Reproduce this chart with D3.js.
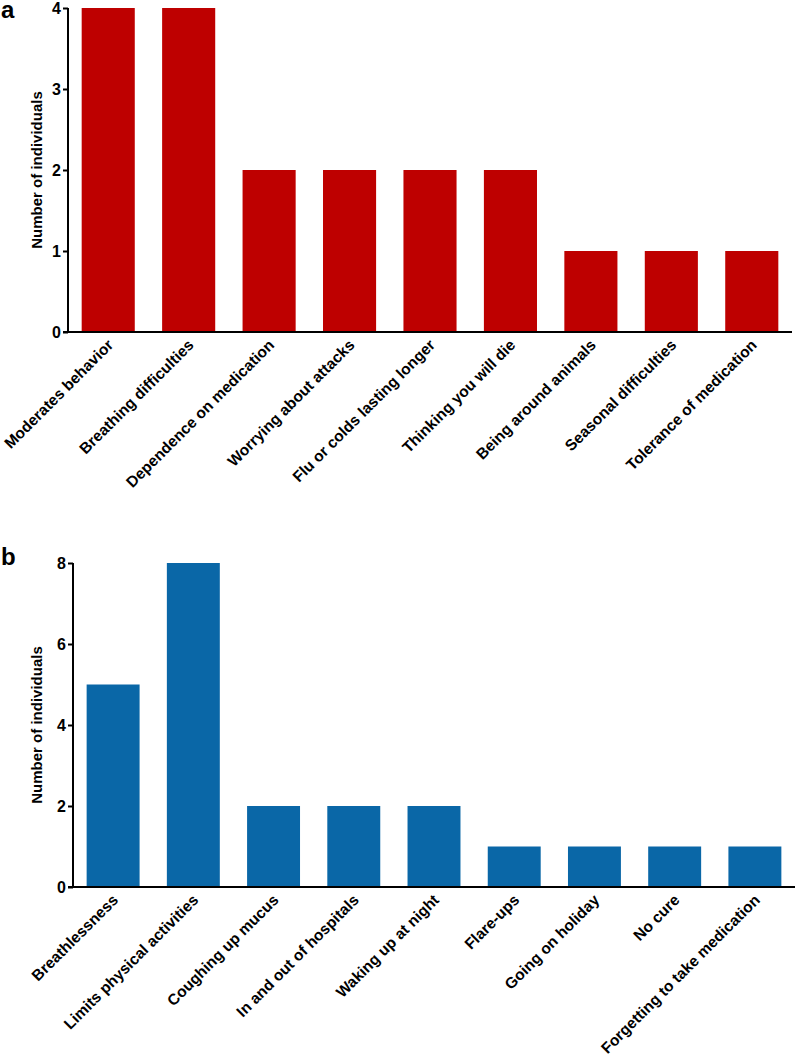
<!DOCTYPE html>
<html>
<head>
<meta charset="utf-8">
<script src="https://cdn.jsdelivr.net/npm/d3@7"></script>
<style>
  body { margin: 0; background: #fff; }
  svg text { font-family: "Liberation Sans", Arial, sans-serif; font-weight: bold; fill: #000; }
</style>
</head>
<body>
<svg id="chart" width="797" height="1062"></svg>
<script>
// panel a data
const catsA = ["Moderates behavior", "Breathing difficulties", "Dependence on medication",
  "Worrying about attacks", "Flu or colds lasting longer", "Thinking you will die",
  "Being around animals", "Seasonal difficulties", "Tolerance of medication"];
const valsA = [4, 4, 2, 2, 2, 2, 1, 1, 1];
const ticksA = [0, 1, 2, 3, 4];

// panel b data
const catsB = ["Breathlessness", "Limits physical activities", "Coughing up mucus",
  "In and out of hospitals", "Waking up at night", "Flare-ups", "Going on holiday",
  "No cure", "Forgetting to take medication"];
const valsB = [5, 8, 2, 2, 2, 1, 1, 1, 1];
const ticksB = [0, 2, 4, 6, 8];

const svg = d3.select("#chart");

function drawPanel(cfg) {
  const g = svg.append("g");

  const x = d3.scaleBand()
    .domain(cfg.cats)
    .range([cfg.left, cfg.right])
    .paddingInner(0.34)
    .paddingOuter(0.17);

  const y = d3.scaleLinear()
    .domain([0, cfg.max])
    .range([cfg.bottom, cfg.top]);

  // bars
  g.selectAll("rect")
    .data(cfg.vals)
    .join("rect")
      .attr("x", (d, i) => x(cfg.cats[i]))
      .attr("y", d => y(d))
      .attr("width", x.bandwidth())
      .attr("height", d => y(0) - y(d))
      .attr("fill", cfg.color);

  // y axis
  const yAxis = g.append("g")
    .attr("transform", `translate(${cfg.left},0)`)
    .call(d3.axisLeft(y).tickValues(cfg.ticks).tickFormat(d3.format("d")).tickSize(5).tickPadding(2));
  yAxis.select(".domain").attr("stroke-width", 2).attr("d", `M0,${cfg.top}V${cfg.bottom}`);
  yAxis.selectAll(".tick line").attr("stroke-width", 2);
  yAxis.selectAll(".tick text").style("font-size", "16px").attr("dy", "0.36em");

  // x axis
  const xAxis = g.append("g")
    .attr("transform", `translate(0,${cfg.bottom})`)
    .call(d3.axisBottom(x).tickSize(0).tickPadding(0));
  xAxis.select(".domain").attr("stroke-width", 2).attr("d", `M${cfg.left - 5},0H${cfg.right}`);
  xAxis.selectAll(".tick text")
    .style("font-size", "15.5px")
    .attr("text-anchor", "end")
    .attr("dy", 0)
    .attr("transform", "translate(6,14) rotate(-45)");

  // y label
  g.append("text")
    .attr("transform", `translate(${cfg.ylabX},${(cfg.top + cfg.bottom) / 2}) rotate(-90)`)
    .attr("text-anchor", "middle")
    .style("font-size", "15px")
    .text("Number of individuals");

  // panel letter
  g.append("text")
    .attr("x", 1)
    .attr("y", cfg.letterY)
    .style("font-size", "24px")
    .text(cfg.letter);
}

drawPanel({
  cats: catsA, vals: valsA, ticks: ticksA, max: 4,
  left: 68, right: 792, top: 8, bottom: 332,
  color: "#BE0000", ylabX: 42, letter: "a", letterY: 18
});

drawPanel({
  cats: catsB, vals: valsB, ticks: ticksB, max: 8,
  left: 73, right: 795, top: 563, bottom: 887,
  color: "#0A67A7", ylabX: 42, letter: "b", letterY: 565
});
</script>
</body>
</html>
